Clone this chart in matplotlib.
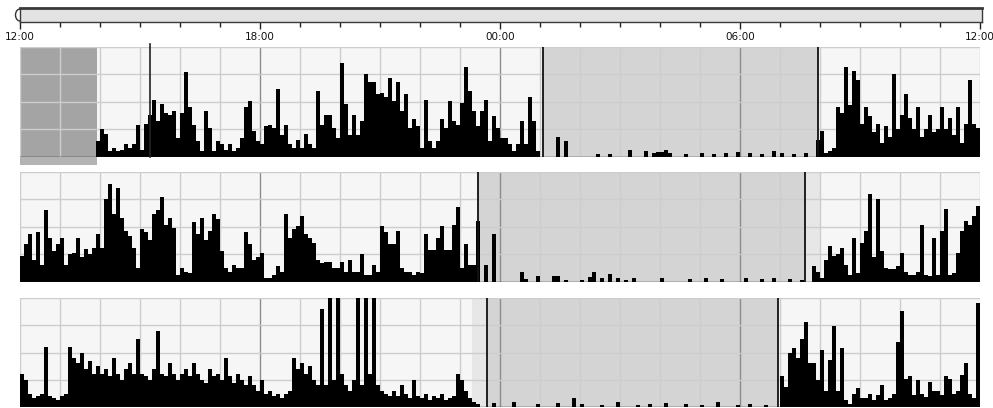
import numpy as np
import matplotlib.pyplot as plt
from matplotlib.patches import Rectangle, Arc
from matplotlib.transforms import IdentityTransform

# activity counts (% of full scale), 6-minute epochs starting at 12:00
day1 = [
    0, 0, 0, 0, 0, 0, 0, 0, 0, 0, 0, 0, 0, 0, 0, 0, 0, 0, 0, 14,
    25, 21, 5, 8, 5, 6, 11, 8, 11, 29, 6, 30, 38, 52, 32, 48, 40, 38, 42, 17,
    40, 77, 45, 29, 14, 5, 42, 26, 5, 14, 11, 6, 11, 5, 8, 17, 45, 51, 23, 14,
    11, 28, 29, 26, 62, 20, 29, 11, 8, 15, 8, 21, 11, 8, 60, 29, 38, 38, 26, 17,
    85, 48, 20, 38, 20, 32, 75, 68, 68, 57, 58, 54, 72, 51, 68, 42, 57, 26, 34, 28,
    8, 52, 14, 8, 14, 34, 26, 51, 32, 29, 49, 82, 60, 42, 28, 42, 52, 14, 37, 26,
    17, 17, 11, 5, 11, 32, 11, 54, 32, 5, 0, 0, 0, 0, 18, 0, 14, 0, 0, 0,
    0, 0, 0, 0, 2, 0, 0, 2, 0, 0, 0, 0, 6, 0, 0, 0, 5, 0, 3, 4,
    4, 6, 3, 0, 0, 0, 2, 0, 0, 0, 3, 0, 0, 2, 0, 0, 3, 0, 0, 4,
    0, 0, 3, 0, 0, 2, 0, 0, 5, 0, 3, 0, 0, 2, 0, 0, 3, 0, 0, 15,
    23, 3, 5, 8, 45, 40, 82, 47, 78, 70, 30, 45, 37, 22, 30, 12, 28, 18, 75, 25,
    38, 57, 35, 25, 45, 18, 25, 38, 22, 25, 45, 25, 35, 20, 45, 12, 30, 70, 30, 26,
]
day2 = [
    23, 34, 43, 20, 45, 15, 65, 40, 28, 34, 40, 15, 25, 26, 40, 22, 30, 25, 31, 43,
    31, 75, 89, 62, 85, 58, 46, 42, 31, 12, 48, 45, 38, 62, 65, 77, 52, 58, 49, 6,
    12, 9, 8, 54, 43, 58, 38, 46, 62, 57, 28, 12, 9, 15, 12, 12, 45, 34, 20, 22,
    26, 3, 3, 6, 14, 9, 62, 40, 48, 51, 60, 43, 40, 35, 20, 17, 18, 18, 12, 12,
    18, 9, 20, 9, 9, 25, 6, 6, 15, 9, 51, 45, 34, 34, 46, 12, 9, 9, 6, 9,
    8, 43, 29, 29, 40, 51, 29, 29, 52, 68, 12, 34, 15, 15, 55, 0, 15, 0, 43, 0,
    0, 0, 0, 0, 0, 9, 2, 0, 0, 5, 0, 0, 0, 5, 5, 0, 1, 0, 0, 0,
    1, 0, 4, 9, 0, 3, 0, 7, 0, 3, 0, 1, 0, 3, 0, 0, 0, 0, 0, 0,
    3, 0, 0, 0, 0, 0, 0, 2, 0, 0, 0, 3, 0, 0, 0, 2, 0, 0, 0, 0,
    0, 3, 0, 0, 0, 2, 0, 0, 3, 0, 0, 0, 2, 0, 0, 1, 0, 0, 14, 9,
    3, 20, 32, 23, 25, 31, 15, 6, 40, 8, 35, 46, 80, 22, 75, 28, 12, 11, 11, 14,
    26, 9, 6, 6, 9, 52, 6, 5, 40, 6, 46, 66, 6, 8, 26, 46, 55, 52, 60, 69,
]
day3 = [
    30, 25, 12, 8, 10, 12, 55, 10, 8, 6, 10, 12, 55, 45, 40, 50, 35, 42, 30, 38,
    30, 35, 28, 45, 30, 25, 35, 40, 30, 62, 30, 28, 25, 35, 70, 30, 28, 40, 30, 25,
    30, 35, 28, 40, 30, 25, 22, 35, 28, 30, 25, 45, 28, 22, 30, 25, 20, 28, 20, 15,
    25, 12, 15, 10, 12, 8, 12, 15, 45, 35, 40, 30, 38, 25, 20, 90, 20, 100, 25, 100,
    30, 20, 15, 25, 100, 20, 100, 30, 100, 20, 15, 12, 10, 15, 10, 20, 12, 8, 25, 10,
    8, 12, 6, 10, 8, 12, 6, 8, 10, 30, 25, 15, 8, 5, 3, 0, 0, 0, 4, 0,
    0, 0, 0, 5, 0, 0, 0, 0, 0, 3, 0, 0, 0, 0, 4, 0, 0, 0, 8, 0,
    3, 0, 0, 0, 0, 2, 0, 0, 0, 5, 0, 0, 0, 0, 2, 0, 0, 3, 0, 0,
    0, 4, 0, 0, 0, 0, 3, 0, 0, 0, 2, 0, 0, 0, 5, 0, 0, 0, 0, 2,
    0, 0, 3, 0, 0, 0, 2, 0, 0, 0, 28, 18, 50, 54, 45, 62, 78, 40, 40, 25,
    52, 15, 43, 74, 15, 54, 6, 3, 12, 17, 8, 8, 12, 6, 11, 20, 6, 8, 12, 60,
    88, 26, 28, 11, 25, 12, 9, 23, 15, 15, 11, 28, 26, 12, 15, 29, 40, 12, 8, 95,
]
days = [day1, day2, day3]

# rest intervals, hours after 12:00
sleep_on = [13.075, 11.45, 11.675]
sleep_off = [19.95, 19.625, 18.95]
# lighter margin around the rest interval
margin_on = [None, 19.625, 11.3]
margin_off = [None, 20.0, 11.675]
# no-data stretch at the start of day 1, event marker
off_wrist = (0.0, 1.925)
event_mark = 3.25

hour_labels = ['12:00', '18:00', '00:00', '06:00', '12:00']

W, H = 993, 408
fig = plt.figure(figsize=(W / 100, H / 100), dpi=100)
fig.patch.set_facecolor('white')

# scroll bar with the time axis under it
bar = fig.add_axes([20 / W, 1 - 22 / H, 962 / W, 14 / H])
bar.set_xlim(0, 24 * 962 / 960)
bar.set_ylim(0, 1)
bar.set_facecolor('#e3e3e3')
for s in bar.spines.values():
    s.set_color('#3a3a3a')
    s.set_linewidth(1.0)
bar.spines['top'].set_linewidth(2.0)
bar.set_yticks([])
bar.set_xticks(np.arange(0, 25, 6))
bar.set_xticklabels(hour_labels, fontsize=7.5, color='#111111')
bar.set_xticks(np.arange(0, 25, 1), minor=True)
bar.tick_params(axis='x', which='major', length=5, width=1.0, color='#222222', pad=2)
bar.tick_params(axis='x', which='minor', length=3.5, width=1.0, color='#222222')
fig.add_artist(Arc((20, H - 15), 9, 12, theta1=90, theta2=270,
                   transform=IdentityTransform(), color='#333333', lw=1.0))

hours = np.arange(240) * 0.1
tops = [47, 172, 298]
bottoms = [156.5, 281.5, 407]

for k, vals in enumerate(days):
    t, b = tops[k], bottoms[k]
    ax = fig.add_axes([20 / W, 1 - b / H, 960 / W, (b - t) / H])
    ax.set_xlim(0, 24)
    ax.set_ylim(0, 100)
    ax.set_facecolor('#f6f6f6')
    for s in ax.spines.values():
        s.set_visible(False)
    ax.set_xticks([])
    ax.set_yticks([])

    ax.axvspan(sleep_on[k], sleep_off[k], color='#d4d4d4', lw=0, zorder=0)
    if margin_on[k] is not None:
        ax.axvspan(margin_on[k], margin_off[k], color='#e7e7e7', lw=0, zorder=0)
    if k == 0:
        ax.axvspan(off_wrist[0], off_wrist[1], color='#a4a4a4', lw=0, zorder=0)
        ax.add_patch(Rectangle((off_wrist[0], -7.5), off_wrist[1] - off_wrist[0], 7.5,
                               color='#b3b3b3', lw=0, clip_on=False))

    # grid: every hour, darker every six hours
    for hh in range(0, 25):
        major = hh % 6 == 0 and 0 < hh < 24
        ax.axvline(hh, color='#8c8c8c' if major else '#cdcdcd',
                   lw=1.0, zorder=1)
    for yy in (25, 50, 75, 100):
        ax.axhline(yy, color='#cdcdcd', lw=1.0, zorder=1)

    ax.bar(hours, vals, width=0.1, align='edge', color='black', lw=0, zorder=2)
    ax.axhline(0, color='#1a1a1a', lw=1.0, zorder=3)

    ax.axvline(sleep_on[k], color='#111111', lw=1.3, zorder=3)
    ax.axvline(sleep_off[k], color='#111111', lw=1.3, zorder=3)
    if k == 0:
        ax.axvline(event_mark, ymax=1.03, color='#222222', lw=1.2, zorder=3,
                   clip_on=False)

fig.savefig('out.png', dpi=100)
